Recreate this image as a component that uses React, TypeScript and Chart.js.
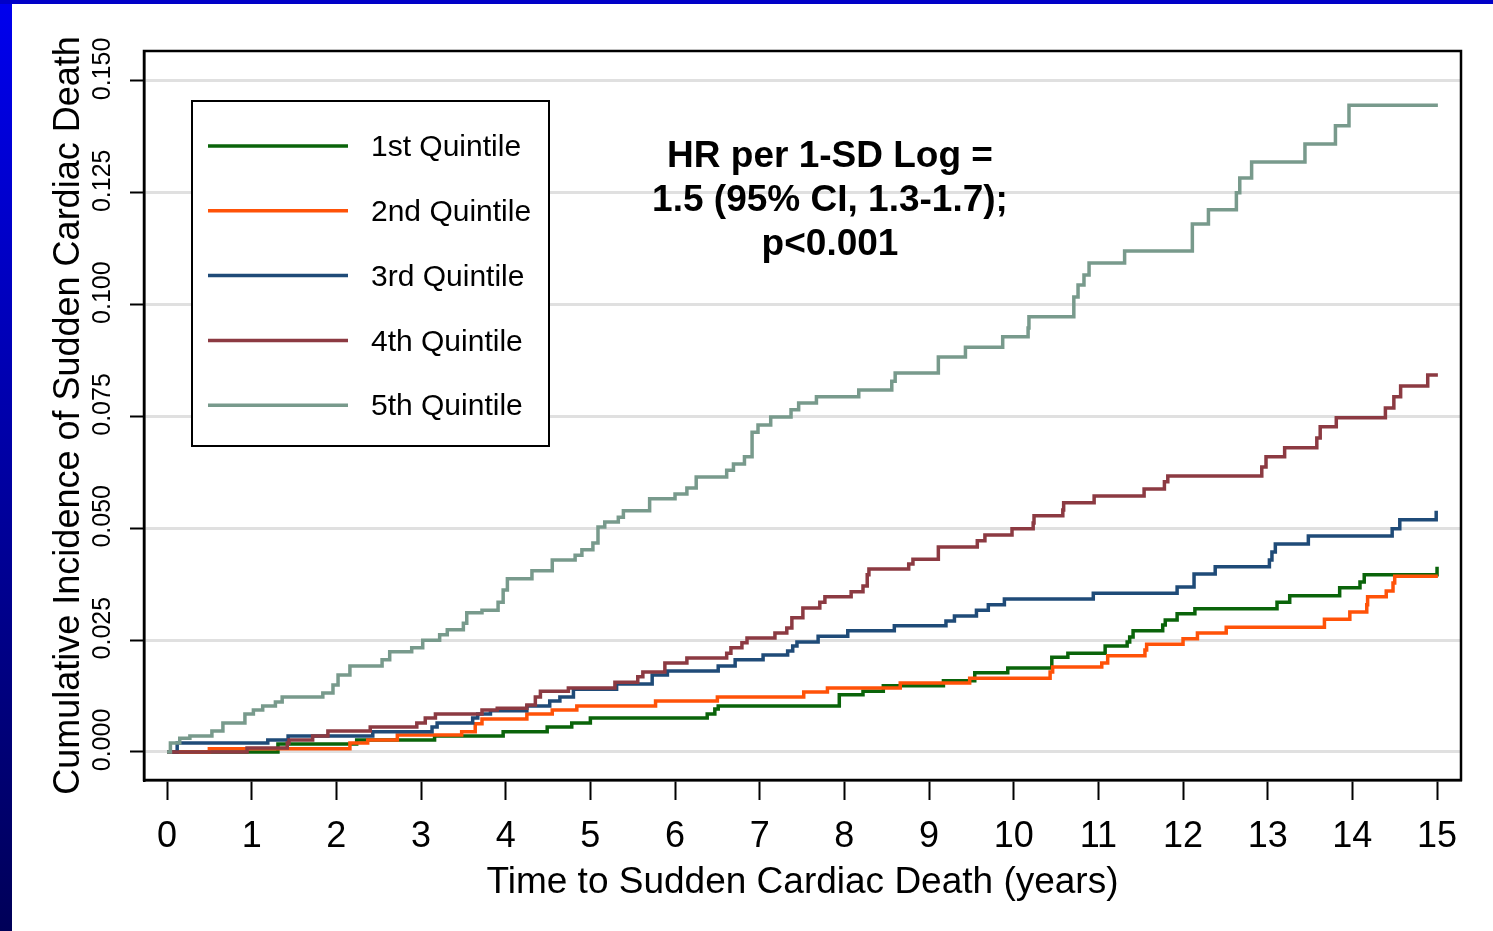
import React, { useEffect, useRef } from 'react';
import { Chart, registerables } from 'chart.js';

Chart.register(...registerables);

const FONT = '"Liberation Sans", Arial, Helvetica, sans-serif';

const SERIES_LABELS = ['1st Quintile', '2nd Quintile', '3rd Quintile', '4th Quintile', '5th Quintile'];
const SERIES_COLORS = ['#0a640a', '#ff5208', '#1f4b78', '#8c3a42', '#789a8c'];

const X_TICKS = [0, 1, 2, 3, 4, 5, 6, 7, 8, 9, 10, 11, 12, 13, 14, 15];
const Y_TICKS = [0, 0.025, 0.05, 0.075, 0.1, 0.125, 0.15];

const X_TITLE = 'Time to Sudden Cardiac Death (years)';
const Y_TITLE = 'Cumulative Incidence of Sudden Cardiac Death';
const ANNOTATION_LINES = ['HR per 1-SD Log =', '1.5 (95% CI, 1.3-1.7);', 'p<0.001'];

// 1st quintile
const Q1_T = [0, 1.31, 2.24, 3.16, 3.97, 4.49, 4.78, 5.0, 6.38, 6.47, 6.51, 7.94, 8.22, 8.46, 9.17, 9.54, 9.93, 10.45, 10.64, 11.08, 11.34, 11.37, 11.41, 11.76, 11.79, 11.93, 12.14, 13.11, 13.26, 13.85, 14.09, 14.14, 15.0];
const Q1_V = [0, 0.0018, 0.0027, 0.0036, 0.0045, 0.0056, 0.0065, 0.0076, 0.0085, 0.0096, 0.0103, 0.0128, 0.0136, 0.0148, 0.0159, 0.0177, 0.0188, 0.0212, 0.0221, 0.0237, 0.0246, 0.0257, 0.0271, 0.0284, 0.0295, 0.0309, 0.032, 0.0335, 0.0349, 0.0367, 0.038, 0.0396, 0.0414];

// 2nd quintile
const Q2_T = [0, 0.5, 2.16, 2.37, 2.72, 3.48, 3.64, 3.72, 4.25, 4.55, 4.84, 5.77, 6.5, 7.52, 7.8, 8.66, 9.48, 10.43, 10.46, 11.04, 11.11, 11.55, 11.57, 12.0, 12.17, 12.51, 13.67, 13.97, 14.17, 14.18, 14.4, 14.48, 14.5, 15.01];
const Q2_V = [0, 0.0007, 0.002, 0.0027, 0.0038, 0.0045, 0.0063, 0.0074, 0.0085, 0.0094, 0.0103, 0.0114, 0.0123, 0.0134, 0.0143, 0.0154, 0.0165, 0.0179, 0.019, 0.0199, 0.0215, 0.0228, 0.0241, 0.0253, 0.0266, 0.0279, 0.0297, 0.0313, 0.0329, 0.0347, 0.036, 0.0378, 0.0393, 0.0393];

// 3rd quintile
const Q3_T = [0, 0.12, 1.19, 1.43, 2.43, 3.13, 3.19, 3.61, 3.67, 3.82, 4.25, 4.52, 4.64, 4.8, 5.31, 5.73, 5.91, 6.51, 6.71, 7.04, 7.33, 7.39, 7.44, 7.69, 8.04, 8.59, 9.2, 9.3, 9.56, 9.7, 9.89, 10.94, 11.93, 12.13, 12.38, 13.02, 13.05, 13.09, 13.48, 14.47, 14.56, 14.99];
const Q3_V = [0, 0.002, 0.0027, 0.0036, 0.0045, 0.0056, 0.0065, 0.0076, 0.0085, 0.0092, 0.0103, 0.0114, 0.0123, 0.014, 0.0152, 0.0172, 0.0181, 0.0192, 0.0206, 0.0217, 0.0226, 0.0237, 0.0246, 0.0259, 0.0271, 0.0282, 0.0293, 0.0304, 0.0317, 0.0329, 0.0342, 0.0355, 0.0369, 0.0398, 0.0414, 0.0429, 0.0447, 0.0465, 0.0483, 0.0499, 0.0519, 0.0539];

// 4th quintile
const Q4_T = [0, 0.945, 1.42, 1.44, 1.72, 1.9, 2.4, 2.95, 3.05, 3.17, 3.72, 3.9, 4.25, 4.35, 4.41, 4.74, 5.29, 5.56, 5.62, 5.88, 6.14, 6.61, 6.66, 6.79, 6.85, 7.18, 7.32, 7.38, 7.51, 7.71, 7.77, 8.08, 8.22, 8.27, 8.29, 8.76, 8.81, 9.11, 9.57, 9.66, 9.98, 10.23, 10.24, 10.58, 10.59, 10.95, 11.54, 11.78, 11.82, 12.93, 12.98, 13.2, 13.58, 13.62, 13.81, 14.39, 14.49, 14.57, 14.89, 15.01];
const Q4_V = [0, 0.0009, 0.002, 0.0027, 0.0036, 0.0047, 0.0056, 0.0065, 0.0076, 0.0085, 0.0094, 0.0098, 0.0105, 0.0123, 0.0136, 0.0143, 0.0156, 0.0168, 0.0179, 0.0199, 0.021, 0.0221, 0.0233, 0.0244, 0.0255, 0.0266, 0.0277, 0.03, 0.0322, 0.0335, 0.0347, 0.0358, 0.0371, 0.0396, 0.0409, 0.042, 0.0431, 0.0458, 0.0472, 0.0485, 0.0499, 0.0512, 0.0528, 0.0541, 0.0557, 0.0572, 0.0588, 0.0604, 0.0617, 0.0637, 0.066, 0.068, 0.0702, 0.0727, 0.0747, 0.0769, 0.0794, 0.0818, 0.0843, 0.0843];

// 5th quintile
const Q5_T = [0, 0.04, 0.15, 0.27, 0.53, 0.66, 0.92, 1.02, 1.13, 1.28, 1.36, 1.84, 1.96, 2.02, 2.16, 2.54, 2.63, 2.89, 3.02, 3.22, 3.31, 3.5, 3.54, 3.72, 3.91, 3.97, 4.02, 4.31, 4.55, 4.82, 4.9, 5.03, 5.09, 5.17, 5.33, 5.39, 5.7, 6.0, 6.14, 6.25, 6.61, 6.69, 6.82, 6.91, 6.98, 7.13, 7.37, 7.46, 7.67, 8.17, 8.56, 8.6, 9.11, 9.43, 9.87, 10.17, 10.18, 10.71, 10.76, 10.83, 10.89, 11.31, 12.11, 12.3, 12.63, 12.67, 12.81, 13.44, 13.8, 13.96, 15.01];
const Q5_V = [0, 0.002, 0.0031, 0.0036, 0.0047, 0.0065, 0.0085, 0.0094, 0.0103, 0.0112, 0.0123, 0.0132, 0.015, 0.0172, 0.0192, 0.0206, 0.0224, 0.0233, 0.025, 0.0262, 0.0273, 0.0288, 0.0311, 0.0317, 0.0335, 0.0362, 0.0387, 0.0405, 0.0429, 0.044, 0.0452, 0.0467, 0.0503, 0.0514, 0.0525, 0.0539, 0.0566, 0.0577, 0.059, 0.0615, 0.063, 0.0644, 0.066, 0.0715, 0.0731, 0.0749, 0.0765, 0.078, 0.0794, 0.0809, 0.0829, 0.0847, 0.0883, 0.0905, 0.0928, 0.0948, 0.0973, 0.1017, 0.1044, 0.1066, 0.1093, 0.112, 0.118, 0.1212, 0.125, 0.1283, 0.1319, 0.1359, 0.14, 0.1446, 0.1446];

const SERIES_T = [Q1_T, Q2_T, Q3_T, Q4_T, Q5_T];
const SERIES_V = [Q1_V, Q2_V, Q3_V, Q4_V, Q5_V];

const W = 1493;
const H = 931;

const framePlugin = {
  id: 'frame',
  afterDraw(chart: any) {
    const { ctx, chartArea: a } = chart;
    ctx.save();
    ctx.strokeStyle = '#000';
    ctx.lineWidth = 2.5;
    ctx.strokeRect(a.left, a.top, a.right - a.left, a.bottom - a.top);
    ctx.restore();
  },
};

const legendBoxPlugin = {
  id: 'legendBox',
  afterDatasetsDraw(chart: any) {
    const { ctx, chartArea: a } = chart;
    const left = a.left + 48;
    const top = a.top + 50;
    const w = 357;
    const h = 345;
    ctx.save();
    ctx.fillStyle = '#fff';
    ctx.fillRect(left, top, w, h);
    ctx.strokeStyle = '#000';
    ctx.lineWidth = 2;
    ctx.strokeRect(left, top, w, h);
    ctx.font = `30px ${FONT}`;
    ctx.textBaseline = 'middle';
    ctx.textAlign = 'left';
    chart.data.datasets.forEach((ds: any, i: number) => {
      const y = top + 45 + i * 64.8;
      ctx.strokeStyle = ds.borderColor;
      ctx.lineWidth = 3.5;
      ctx.beginPath();
      ctx.moveTo(left + 16, y);
      ctx.lineTo(left + 156, y);
      ctx.stroke();
      ctx.fillStyle = '#000';
      ctx.fillText(ds.label, left + 179, y + 2);
    });
    ctx.restore();
  },
};

const annotationPlugin = {
  id: 'hrText',
  afterDatasetsDraw(chart: any) {
    const { ctx, chartArea: a } = chart;
    ctx.save();
    ctx.fillStyle = '#000';
    ctx.font = `bold 37px ${FONT}`;
    ctx.textAlign = 'center';
    ctx.textBaseline = 'middle';
    ANNOTATION_LINES.forEach((line, i) => {
      ctx.fillText(line, a.left + 686, a.top + 106 + i * 44);
    });
    ctx.restore();
  },
};

export default function App() {
  const ref = useRef<HTMLCanvasElement>(null);

  useEffect(() => {
    if (!ref.current) return;
    const datasets = SERIES_LABELS.map((label, i) => ({
      label,
      data: SERIES_T[i].map((t, j) => ({ x: t, y: SERIES_V[i][j] })),
      borderColor: SERIES_COLORS[i],
      backgroundColor: SERIES_COLORS[i],
      borderWidth: 3.5,
      pointRadius: 0,
      stepped: true,
      fill: false,
      order: 5 - i,
    }));

    const chart = new Chart(ref.current, {
      type: 'line',
      data: { datasets },
      options: {
        responsive: false,
        animation: false,
        layout: { padding: { left: 0, top: 51, right: 32, bottom: 0 } },
        plugins: {
          legend: { display: false },
          tooltip: { enabled: false },
        },
        scales: {
          x: {
            type: 'linear',
            position: 'bottom',
            min: -0.272,
            max: 15.283,
            afterBuildTicks: (s: any) => {
              s.ticks = X_TICKS.map((v) => ({ value: v }));
            },
            afterFit: (s: any) => {
              s.height = 151;
            },
            ticks: {
              autoSkip: false,
              maxRotation: 0,
              color: '#000',
              font: { family: FONT, size: 36 },
              padding: 15,
              callback: (v: any) => String(v),
            },
            grid: {
              drawOnChartArea: false,
              drawTicks: true,
              tickLength: 20,
              tickColor: '#000',
              tickWidth: 2,
            },
            border: { display: true, color: '#000', width: 2.5 },
            title: {
              display: true,
              text: X_TITLE,
              color: '#000',
              font: { family: FONT, size: 37 },
              padding: { top: 0, bottom: 26 },
            },
          },
          y: {
            type: 'linear',
            position: 'left',
            min: -0.00626,
            max: 0.1567,
            afterBuildTicks: (s: any) => {
              s.ticks = Y_TICKS.map((v) => ({ value: v }));
            },
            afterFit: (s: any) => {
              s.width = 144;
            },
            ticks: {
              autoSkip: false,
              minRotation: 90,
              maxRotation: 90,
              crossAlign: 'center',
              labelOffset: -12,
              color: '#000',
              font: { family: FONT, size: 25 },
              padding: -4,
              callback: (v: any) => Number(v).toFixed(3),
            },
            grid: {
              color: '#e0e0e0',
              lineWidth: 3,
              drawTicks: true,
              tickLength: 14,
              tickColor: '#000',
              tickWidth: 2,
            },
            border: { display: true, color: '#000', width: 2.5 },
            title: {
              display: true,
              text: Y_TITLE,
              color: '#000',
              font: { family: FONT, size: 36 },
              padding: { top: 47, bottom: 0 },
            },
          },
        },
      },
      plugins: [legendBoxPlugin, annotationPlugin, framePlugin],
    } as any);

    return () => chart.destroy();
  }, []);

  return (
    <div style={{ position: 'absolute', left: 0, top: 0, width: W, height: H, background: '#fff', overflow: 'hidden' }}>
      <div style={{ position: 'absolute', left: 0, top: 0, width: 12, height: H, background: 'linear-gradient(#0000ee, #000058)' }} />
      <div style={{ position: 'absolute', left: 0, top: 0, width: W, height: 4, background: '#0000c8' }} />
      <canvas ref={ref} width={W} height={H} style={{ position: 'absolute', left: 0, top: 0 }} />
    </div>
  );
}
